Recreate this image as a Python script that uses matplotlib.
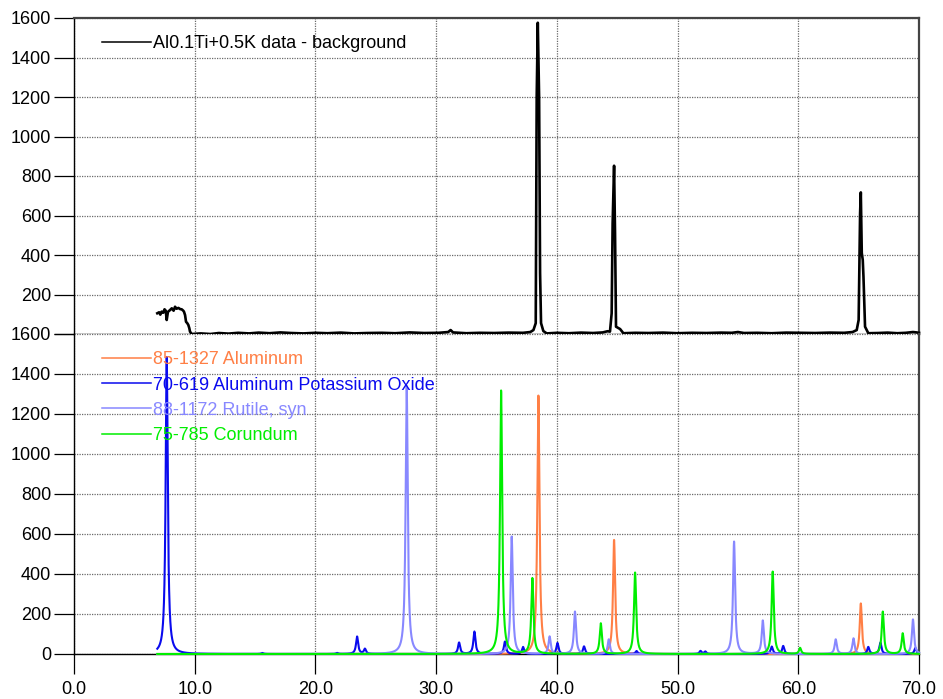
import numpy as np
import matplotlib
matplotlib.use("Agg")
import matplotlib.pyplot as plt

plt.rcParams['font.family'] = ['Liberation Sans', 'DejaVu Sans']

# ---- measured pattern (2-theta, counts) ----
meas_x = [6.9, 7.05, 7.15, 7.26, 7.4, 7.5, 7.6, 7.68, 7.78, 7.95, 8.1, 8.25, 8.37, 8.5,
          8.65, 8.8, 8.92, 9.05, 9.11, 9.2, 9.28, 9.38, 9.47, 9.55, 9.61, 9.75,
          10.5, 11.3, 12.0, 12.8, 13.6, 14.5, 15.3, 16.2, 17.1, 18.0, 19.0, 20.0,
          21.0, 22.1, 23.2, 24.3, 25.5, 26.6, 27.8, 29.0, 30.2, 31.0, 31.2, 31.4,
          32.5, 33.6, 34.8, 36.0, 37.2, 37.8, 38.06, 38.25, 38.33, 38.42, 38.53,
          38.61, 38.69, 38.88, 39.16, 40.0, 41.0, 42.0, 43.0, 43.8, 44.2, 44.4,
          44.54, 44.62, 44.74, 44.82, 44.9, 45.24, 45.51, 46.5, 47.6, 48.8, 50.0,
          51.2, 52.4, 53.6, 54.5, 55.0, 55.5, 56.6, 57.8, 59.0, 60.2, 61.4, 62.6,
          63.8, 64.5, 64.84, 65.0, 65.12, 65.18, 65.26, 65.34, 65.4, 65.53, 65.8,
          66.6, 67.4, 68.2, 68.9, 69.5, 69.8, 70.0]
meas_y = [105, 110, 98, 113, 108, 125, 118, 71, 112, 121, 130, 118, 138, 128,
          132, 126, 125, 118, 113, 96, 62, 55, 46, 30, 12, 0,
          3, 0, 5, 2, 6, 3, 7, 4, 8, 5, 3, 6,
          4, 7, 3, 5, 6, 4, 8, 5, 6, 10, 20, 8,
          4, 6, 5, 7, 6, 10, 20, 55, 1200, 1576, 1200,
          308, 55, 15, 3, 6, 4, 7, 5, 8, 14, 12,
          105, 560, 852, 510, 37, 25, 4, 6, 5, 7, 4,
          6, 5, 7, 6, 10, 5, 6, 4, 7, 6, 5, 7,
          6, 10, 20, 71, 612, 717, 410, 375, 290, 37, 4,
          5, 7, 4, 6, 10, 8, 6]

# ---- reference cards: peak positions (2-theta) and intensities ----
al_pos = [38.47, 44.74, 65.18]
al_int = [1292, 570, 253]

kal_pos = [7.68, 15.6, 21.8, 23.45, 24.1, 31.9, 33.17, 35.7, 37.2, 40.05, 42.25,
           46.6, 51.9, 52.3, 57.8, 58.75, 65.8, 66.8, 69.7]
kal_int = [1485, 5, 5, 87, 25, 57, 112, 62, 35, 55, 38,
           15, 15, 12, 37, 40, 35, 57, 30]

rut_pos = [27.56, 36.26, 39.4, 41.5, 44.3, 54.68, 57.06, 63.1, 64.57, 69.5]
rut_int = [1340, 587, 87, 212, 73, 562, 167, 73, 78, 173]

cor_pos = [35.38, 37.97, 43.64, 46.48, 57.88, 60.15, 67.0, 68.65]
cor_int = [1317, 378, 153, 407, 412, 30, 212, 103]

phases = [
    ("85-1327 Aluminum", al_pos, al_int, "#FF7F45"),
    ("70-619 Aluminum Potassium Oxide", kal_pos, kal_int, "#0A0AEE"),
    ("88-1172 Rutile, syn", rut_pos, rut_int, "#8888FF"),
    ("75-785 Corundum", cor_pos, cor_int, "#00EE00"),
]

meas_label = "Al0.1Ti+0.5K data - background"

yticks = [0, 200, 400, 600, 800, 1000, 1200, 1400, 1600]
xticks = [0, 10, 20, 30, 40, 50, 60, 70]


def profile(tt, positions, heights, fwhm=0.21):
    """Lorentzian line profile summed over the peak list."""
    out = np.zeros_like(tt)
    g = fwhm / 2.0
    for p, h in zip(positions, heights):
        out += h * g ** 2 / ((tt - p) ** 2 + g ** 2)
    return out


W, H = 943, 699
fig = plt.figure(figsize=(W / 100, H / 100), dpi=100)

x0, x1 = 74, 919
ax_top = fig.add_axes([x0 / W, (H - 334) / H, (x1 - x0) / W, (334 - 18) / H])
ax_bot = fig.add_axes([x0 / W, (H - 654) / H, (x1 - x0) / W, (654 - 334) / H])

grid_kw = dict(color="#6a6a6a", linestyle=(0, (1, 1)), linewidth=0.9)

for ax in (ax_top, ax_bot):
    ax.set_xlim(0, 70)
    ax.set_ylim(0, 1600)
    ax.set_yticks(yticks)
    ax.set_xticks(xticks)
    ax.grid(True, **grid_kw)
    ax.set_axisbelow(True)
    ax.tick_params(axis="y", direction="out", length=14.5, width=0.9,
                   pad=2, labelsize=13, colors="black")
    ax.tick_params(axis="x", direction="out", length=14.5, width=0.9,
                   pad=5, labelsize=13)
    ax.spines["left"].set_color("black")
    ax.spines["left"].set_linewidth(1.0)
    ax.spines["right"].set_color("#444444")
    ax.spines["right"].set_linewidth(1.6)
    ax.spines["top"].set_visible(False)
    ax.spines["bottom"].set_color("black")
    ax.spines["bottom"].set_linewidth(1.0)

ax_top.spines["top"].set_visible(True)
ax_top.spines["top"].set_color("#444444")
ax_top.spines["top"].set_linewidth(1.6)
ax_top.tick_params(axis="x", bottom=False, labelbottom=False)
ax_top.set_yticklabels(["" if v == 0 else str(v) for v in yticks])
ax_bot.set_xticklabels([f"{v:.1f}" for v in xticks])
ax_bot.set_yticklabels([str(v) for v in yticks])

# measured pattern
ax_top.plot(meas_x, meas_y, color="black", linewidth=1.9, label=meas_label,
            clip_on=False, zorder=3)
leg_top = ax_top.legend(loc="upper left", bbox_to_anchor=(0.0247, 0.968),
                        frameon=False, fontsize=13, handlelength=2.7,
                        handletextpad=0.1, borderaxespad=0.0)

# reference patterns
tt = np.arange(6.9, 70.0001, 0.01)
for label, pos, inten, col in phases:
    ax_bot.plot(tt, profile(tt, pos, inten), color=col, linewidth=1.5,
                label=label, zorder=3, clip_on=False)

leg_bot = ax_bot.legend(loc="upper left", bbox_to_anchor=(0.0247, 0.968),
                        frameon=False, fontsize=13, handlelength=2.7,
                        handletextpad=0.1, labelspacing=0.45,
                        borderaxespad=0.0, labelcolor="linecolor")

# thin legend keys
for leg in (leg_top, leg_bot):
    for h in leg.get_lines():
        h.set_linewidth(1.1)

fig.savefig("out.png", dpi=100)
